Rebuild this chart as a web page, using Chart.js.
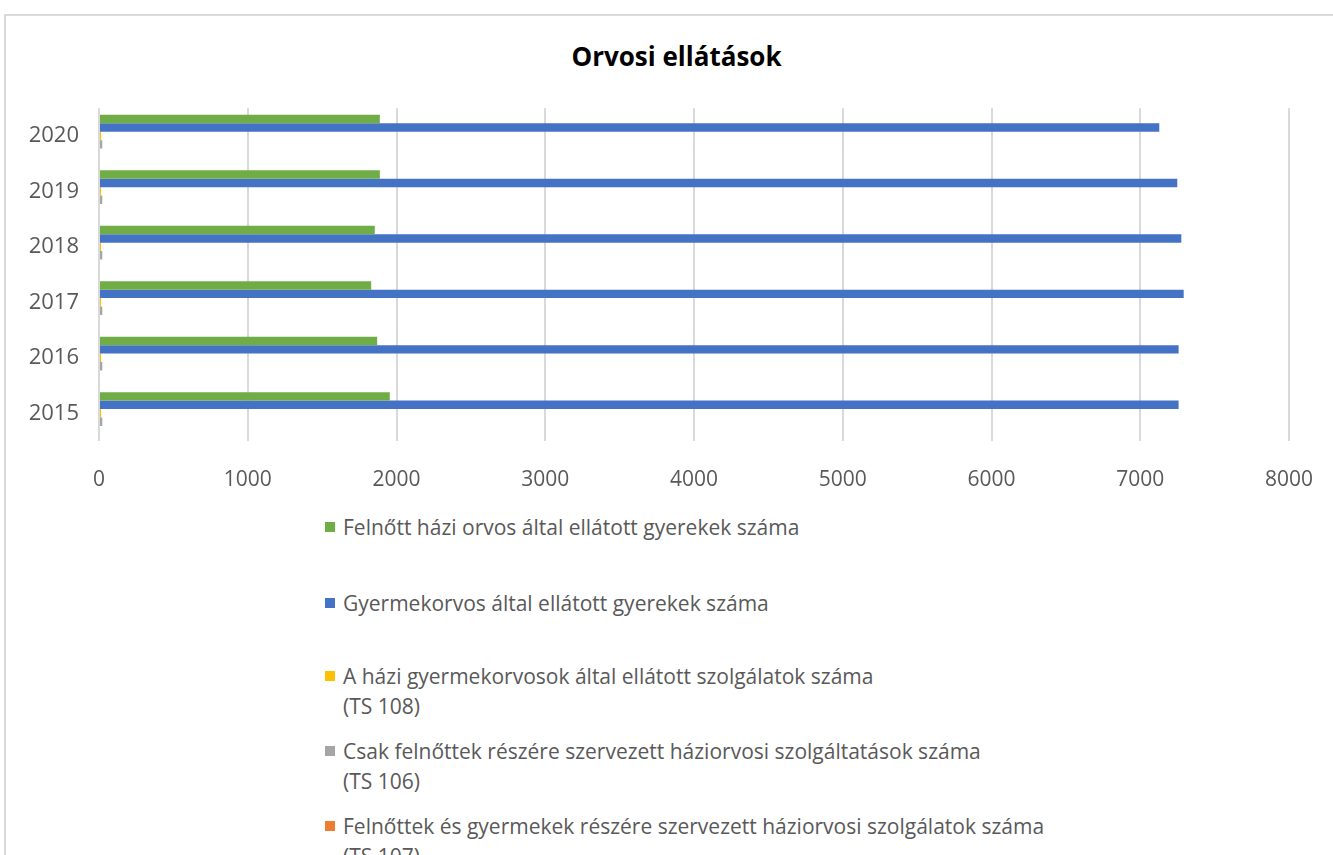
<!DOCTYPE html>
<html>
<head>
<meta charset="utf-8">
<script src="https://cdn.jsdelivr.net/npm/chart.js@4.4.1/dist/chart.umd.min.js"></script>
<style>
  html, body { margin:0; padding:0; width:1333px; height:855px; overflow:hidden; background:#fff; }
  #frame { position:absolute; left:4px; top:14px; width:1400px; height:900px; border-left:2px solid #d9d9d9; border-top:2px solid #d9d9d9; }
  #title { position:absolute; left:0; width:1353px; top:38px; text-align:center; font-family:"Open Sans", sans-serif; font-weight:bold; font-size:26px; color:#000; }
  #wrap { position:absolute; left:0; top:75px; width:1333px; height:425px; }
  #legend { position:absolute; left:325px; top:0; font-family:"Open Sans", sans-serif; font-size:21px; color:#595959; }
  .item { position:absolute; left:0; white-space:nowrap; line-height:30px; }
  .sw { position:absolute; left:0; top:10px; width:10px; height:10px; }
  .txt { position:absolute; left:18px; top:0; }
</style>
</head>
<body>
<div id="frame"></div>
<div id="title">Orvosi ellátások</div>
<div id="wrap"><canvas id="c" width="1333" height="425"></canvas></div>
<div id="legend"></div>
<script>
const years = ['2015','2016','2017','2018','2019','2020'];
const felnottHaziorvos = [1955, 1870, 1830, 1854, 1888, 1888];
const gyermekorvos = [7258, 7258, 7292, 7276, 7249, 7128];
const ts108 = [14, 14, 14, 14, 14, 14];
const ts106 = [22, 22, 22, 22, 22, 22];
const ts107 = [0, 0, 0, 0, 0, 0];
const xTicks = [0, 1000, 2000, 3000, 4000, 5000, 6000, 7000, 8000];

const seriesLabels = [
  ['Felnőtt házi orvos által ellátott gyerekek száma'],
  ['Gyermekorvos által ellátott gyerekek száma'],
  ['A házi gyermekorvosok által ellátott szolgálatok száma', '(TS 108)'],
  ['Csak felnőttek részére szervezett háziorvosi szolgáltatások száma', '(TS 106)'],
  ['Felnőttek és gyermekek részére szervezett háziorvosi szolgálatok száma', '(TS 107)']
];
const seriesColors = ['#70ad47', '#4472c4', '#ffc000', '#a5a5a5', '#ed7d31'];
const seriesData = [felnottHaziorvos, gyermekorvos, ts108, ts106, ts107];

const rev = a => a.slice().reverse();

const datasets = seriesData.map((d, i) => ({
  label: seriesLabels[i].join(' '),
  data: rev(d),
  backgroundColor: seriesColors[i],
  borderWidth: 0,
  categoryPercentage: 0.76,
  barPercentage: 1.0
}));

new Chart(document.getElementById('c'), {
  type: 'bar',
  data: { labels: rev(years), datasets },
  options: {
    indexAxis: 'y',
    responsive: false,
    animation: false,
    maintainAspectRatio: false,
    layout: { padding: { top: 4, right: 44, left: 0, bottom: 0 } },
    plugins: { legend: { display: false }, title: { display: false }, tooltip: { enabled: false } },
    scales: {
      x: {
        min: 0, max: 8000,
        afterBuildTicks: s => { s.ticks = xTicks.map(v => ({ value: v })); },
        afterFit: s => { s.height = 59; s.paddingRight = 0; s.paddingLeft = 0; },
        grid: { color: '#d9d9d9', lineWidth: 2, drawTicks: false },
        border: { display: false },
        ticks: { color: '#595959', font: { family: 'Open Sans', size: 21 }, padding: 26, callback: v => String(v) }
      },
      y: {
        afterFit: s => { s.width = 99; },
        grid: { display: false, drawTicks: false },
        border: { display: false },
        ticks: { color: '#595959', font: { family: 'Open Sans', size: 22 }, padding: 20 }
      }
    }
  }
});

const legendTops = [512, 588, 661, 736, 811];
const leg = document.getElementById('legend');
seriesLabels.forEach((lines, i) => {
  const it = document.createElement('div');
  it.className = 'item';
  it.style.top = legendTops[i] + 'px';
  const sw = document.createElement('div');
  sw.className = 'sw';
  sw.style.background = seriesColors[i];
  const tx = document.createElement('div');
  tx.className = 'txt';
  tx.innerHTML = lines.map(l => l.replace(/&/g,'&amp;')).join('<br>');
  it.appendChild(sw); it.appendChild(tx);
  leg.appendChild(it);
});
</script>
</body>
</html>
